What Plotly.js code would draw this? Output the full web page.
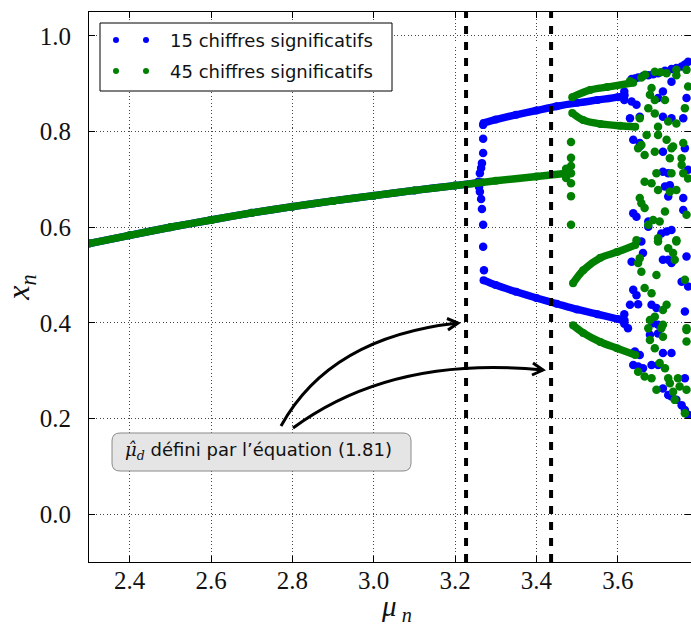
<!DOCTYPE html>
<html><head><meta charset="utf-8">
<script src="https://cdn.plot.ly/plotly-3.0.1.min.js"></script>
<style>html,body{margin:0;padding:0;background:#fff}</style>
</head><body><div id="chart" style="width:691px;height:627px"></div>
<script>
// ---------- data ----------
const seriesNames = ['15 chiffres significatifs', '45 chiffres significatifs'];
const muHatD = [3.227, 3.436];

// 15 digits (blue)
const blueFixedMu = [2.3, 2.4, 2.5, 2.6, 2.7, 2.8, 2.9, 3.0, 3.1, 3.2, 3.266];
const blueFixedX  = [0.566, 0.583, 0.600, 0.615, 0.630, 0.643, 0.655, 0.666, 0.677, 0.687, 0.694];
const blueUpperMu = [3.27, 3.3, 3.35, 3.4, 3.45, 3.5, 3.55, 3.6, 3.617];
const blueUpperX  = [0.818, 0.825, 0.835, 0.844, 0.853, 0.860, 0.866, 0.872, 0.876];
const blueLowerMu = [3.27, 3.3, 3.35, 3.4, 3.45, 3.5, 3.55, 3.6, 3.617];
const blueLowerX  = [0.489, 0.479, 0.465, 0.452, 0.440, 0.428, 0.418, 0.408, 0.405];
const blueScatterMu = [3.269,3.269,3.269,3.266,3.264,3.261,3.257,3.259,3.261,3.264,3.266,3.269,3.269,3.271,
  3.616,3.616,3.616,3.616,
  3.634,3.650,3.675,3.699,3.732,3.757,3.773,3.634,3.646,3.630,3.654,3.711,3.699,3.732,3.711,3.732,3.761,3.769,3.638,3.654,
  3.642,3.662,3.687,3.716,3.744,3.765,
  3.654,3.711,3.765,3.711,3.724,3.716,3.728,3.724,3.761,3.761,3.638,3.646,3.675,3.675,3.707,3.720,3.732,3.773,
  3.658,3.662,3.634,3.711,3.732,3.769,3.724,3.638,3.646,3.630,3.650,3.683,3.695,3.757,3.773,3.765,3.687,3.699,
  3.625,3.679,3.699,3.642,3.654,3.711,3.732,3.638,3.650,3.662,3.683,3.699,3.765,3.711,3.724,3.732,3.744,3.757,3.765,3.773];
const blueScatterX = [0.814,0.785,0.755,0.734,0.724,0.713,0.695,0.684,0.674,0.659,0.638,0.605,0.559,0.510,
  0.884,0.866,0.418,0.398,
  0.910,0.913,0.918,0.922,0.931,0.936,0.946,0.863,0.856,0.828,0.831,0.884,0.870,0.904,0.831,0.828,0.828,0.870,0.783,0.776,
  0.911,0.916,0.920,0.927,0.933,0.940,
  0.769,0.758,0.765,0.716,0.713,0.685,0.688,0.664,0.661,0.636,0.629,0.622,0.612,0.601,0.587,0.591,0.594,0.720,
  0.570,0.546,0.528,0.532,0.525,0.539,0.532,0.469,0.458,0.438,0.439,0.438,0.431,0.486,0.476,0.424,0.399,0.396,
  0.389,0.375,0.378,0.340,0.333,0.337,0.337,0.312,0.309,0.305,0.312,0.312,0.284,0.263,0.249,0.246,0.239,0.228,0.218,0.208];

// 45 digits (green)
const greenFixedMu = [2.3, 2.4, 2.5, 2.6, 2.7, 2.8, 2.9, 3.0, 3.1, 3.2, 3.3, 3.4, 3.475];
const greenFixedX  = [0.566, 0.583, 0.600, 0.615, 0.630, 0.643, 0.655, 0.666, 0.677, 0.687, 0.697, 0.706, 0.713];
const greenAMu = [3.488, 3.532, 3.574, 3.638];
const greenAX  = [0.872, 0.887, 0.893, 0.902];
const greenBMu = [3.488, 3.515, 3.557, 3.606, 3.643];
const greenBX  = [0.839, 0.824, 0.816, 0.812, 0.810];
const greenCMu = [3.490, 3.515, 3.557, 3.598, 3.643];
const greenCX  = [0.483, 0.510, 0.536, 0.548, 0.563];
const greenDMu = [3.490, 3.515, 3.557, 3.598, 3.643];
const greenDX  = [0.395, 0.379, 0.360, 0.347, 0.333];
const greenScatterMu = [3.473,3.473,3.485,3.485,3.485,3.485,3.485,3.485,3.485,
  3.630,3.667,3.705,
  3.658,3.691,3.720,3.744,3.744,3.769,3.773,3.683,3.679,3.691,3.716,3.675,3.691,3.654,3.724,3.744,3.765,3.699,3.671,3.658,3.699,3.720,3.736,3.761,
  3.650,3.666,3.691,3.728,3.732,3.757,3.757,3.695,3.732,3.761,3.666,3.683,3.699,3.728,3.744,3.654,3.658,3.666,3.716,3.769,3.687,3.703,3.675,3.646,3.699,3.744,3.773,
  3.699,3.724,3.736,3.744,3.740,3.654,3.650,3.658,3.695,3.666,3.683,3.765,3.720,3.711,3.691,3.679,3.711,3.769,
  3.675,3.707,3.769,3.679,3.711,3.691,3.769,3.703,3.716,3.650,3.666,3.683,3.724,3.728,3.748,3.752,3.695,3.736,3.740,3.769,3.765];
const greenScatterX = [0.722,0.703,0.778,0.745,0.728,0.713,0.692,0.665,0.605,
  0.905,0.919,0.924,
  0.913,0.925,0.922,0.929,0.918,0.929,0.894,0.891,0.877,0.866,0.866,0.849,0.838,0.828,0.821,0.817,0.849,0.810,0.793,0.772,0.793,0.783,0.769,0.776,
  0.765,0.751,0.758,0.744,0.765,0.744,0.730,0.713,0.713,0.713,0.695,0.692,0.678,0.674,0.678,0.661,0.650,0.640,0.633,0.626,0.615,0.612,0.605,0.573,0.577,0.573,0.702,
  0.570,0.556,0.546,0.570,0.532,0.535,0.525,0.507,0.500,0.473,0.462,0.490,0.438,0.427,0.413,0.406,0.396,0.389,
  0.389,0.389,0.385,0.364,0.371,0.347,0.361,0.316,0.305,0.298,0.288,0.284,0.284,0.274,0.284,0.267,0.260,0.256,0.239,0.260,0.211];

// ---------- styling ----------
const BLUE = '#0000ff', GREEN = '#008000';
const L = 89, T = 12, PW = 602, PH = 550;
const XR = [2.3, 3.78], YR = [-0.1, 1.05];
const fx = p => XR[0] + (p - L) / PW * (XR[1] - XR[0]);
const fy = p => YR[1] - (p - T) / PH * (YR[1] - YR[0]);
const serif = '"Liberation Serif", "Times New Roman", serif';
const sans = '"DejaVu Sans", Verdana, sans-serif';

function curve(mu, x, color) {
  return {x: mu, y: x, type: 'scatter', mode: 'lines+markers', showlegend: false, hoverinfo: 'skip',
    line: {color: color, width: 7.5, shape: 'spline', smoothing: 0.8},
    marker: {color: color, size: 8}};
}
function dots(mu, x, color) {
  return {x: mu, y: x, type: 'scatter', mode: 'markers', showlegend: false, hoverinfo: 'skip',
    marker: {color: color, size: 8.5}};
}
const traces = [
  curve(blueFixedMu, blueFixedX, BLUE),
  curve(blueUpperMu, blueUpperX, BLUE),
  curve(blueLowerMu, blueLowerX, BLUE),
  dots(blueScatterMu, blueScatterX, BLUE),
  curve(greenFixedMu, greenFixedX, GREEN),
  curve(greenAMu, greenAX, GREEN),
  curve(greenBMu, greenBX, GREEN),
  curve(greenCMu, greenCX, GREEN),
  curve(greenDMu, greenDX, GREEN),
  dots(greenScatterMu, greenScatterX, GREEN)
];

const shapes = [];
muHatD.forEach(m => shapes.push({type: 'line', xref: 'x', yref: 'paper', x0: m, x1: m, y0: 0, y1: 1,
  line: {color: '#000', width: 4, dash: '8px,8px'}}));

// rounded annotation box (pixel geometry converted to axis units)
function P(a, b) { return fx(a) + ',' + fy(b); }
const bx0 = 112, bx1 = 411, by0 = 433, by1 = 471, r = 8;
shapes.push({type: 'path', xref: 'x', yref: 'y', fillcolor: '#e5e5e5', line: {color: '#8a8a8a', width: 1},
  path: 'M' + P(bx0 + r, by0) + ' L' + P(bx1 - r, by0) + ' Q' + P(bx1, by0) + ' ' + P(bx1, by0 + r) +
        ' L' + P(bx1, by1 - r) + ' Q' + P(bx1, by1) + ' ' + P(bx1 - r, by1) +
        ' L' + P(bx0 + r, by1) + ' Q' + P(bx0, by1) + ' ' + P(bx0, by1 - r) +
        ' L' + P(bx0, by0 + r) + ' Q' + P(bx0, by0) + ' ' + P(bx0 + r, by0) + ' Z'});
// curved arrows
function arrow(p0, c, p2, h1, h2) {
  shapes.push({type: 'path', xref: 'x', yref: 'y', line: {color: '#000', width: 3},
    path: 'M' + P(p0[0], p0[1]) + ' Q' + P(c[0], c[1]) + ' ' + P(p2[0], p2[1])});
  shapes.push({type: 'path', xref: 'x', yref: 'y', line: {color: '#000', width: 3},
    path: 'M' + P(h1[0], h1[1]) + ' L' + P(p2[0], p2[1]) + ' L' + P(h2[0], h2[1])});
}
arrow([281, 426], [330, 337], [458, 323], [448, 330], [447, 318.5]);
arrow([293, 428], [392, 355], [543, 370], [533, 363], [532, 375]);

// custom legend (matplotlib style, two dots per entry)
const lgx = p => (p - L) / PW, lgy = p => (T + PH - p) / PH;
shapes.push({type: 'rect', xref: 'paper', yref: 'paper', x0: lgx(100), x1: lgx(392), y0: lgy(91), y1: lgy(23),
  fillcolor: '#fff', line: {color: '#000', width: 1}});
[[40, BLUE], [71, GREEN]].forEach(([yy, col]) => {
  [116, 146].forEach(xx => shapes.push({type: 'circle', xref: 'paper', yref: 'paper',
    xsizemode: 'pixel', ysizemode: 'pixel', xanchor: lgx(xx), yanchor: lgy(yy),
    x0: -3, x1: 3, y0: -3, y1: 3, fillcolor: col, line: {width: 0}}));
});

const annotations = [
  {xref: 'paper', yref: 'paper', x: lgx(168), y: lgy(40), xanchor: 'left', yanchor: 'middle', showarrow: false,
   text: seriesNames[0], font: {family: sans, size: 18, color: '#111'}},
  {xref: 'paper', yref: 'paper', x: lgx(168), y: lgy(71), xanchor: 'left', yanchor: 'middle', showarrow: false,
   text: seriesNames[1], font: {family: sans, size: 18, color: '#111'}},
  {xref: 'x', yref: 'y', x: fx(258), y: fy(451), xanchor: 'center', yanchor: 'middle', showarrow: false,
   text: '<span style="font-family:DejaVu Serif"><i>μ̂</i><sub><i>d</i></sub></span> défini par l’équation (1.81)',
   font: {family: sans, size: 18, color: '#111'}},
  // x-axis title (placed as an annotation below the tick labels)
  {xref: 'paper', yref: 'paper', x: lgx(396), y: lgy(627), xanchor: 'center', yanchor: 'bottom', showarrow: false,
   borderpad: 0, text: '<i>μ</i><sub> <i>n</i></sub>', font: {family: serif, size: 29, color: '#111'}}
];

const axisCommon = {showline: true, linecolor: '#000', linewidth: 1, mirror: 'ticks', ticks: 'inside',
  ticklen: 6, tickwidth: 1, tickcolor: '#000', showgrid: true, gridcolor: '#444', gridwidth: 1,
  griddash: '1px,2.5px', zeroline: false, tickformat: '.1f', tickfont: {family: serif, size: 25, color: '#111'}};

const layout = {
  width: 691, height: 627, margin: {l: L, r: 0, t: T, b: 65},
  paper_bgcolor: '#fff', plot_bgcolor: '#fff', showlegend: false,
  xaxis: Object.assign({}, axisCommon, {range: XR, dtick: 0.2, tick0: 2.4, ticklabelstandoff: -4}),
  yaxis: Object.assign({}, axisCommon, {range: YR, dtick: 0.2, tick0: 0, ticklabelstandoff: 12,
    title: {text: '<i>x</i><sub><i>n</i></sub>', font: {family: serif, size: 32, color: '#111'}, standoff: 4}}),
  shapes: shapes, annotations: annotations
};
Plotly.newPlot('chart', traces, layout, {displayModeBar: false, staticPlot: true});
</script>
</body></html>
